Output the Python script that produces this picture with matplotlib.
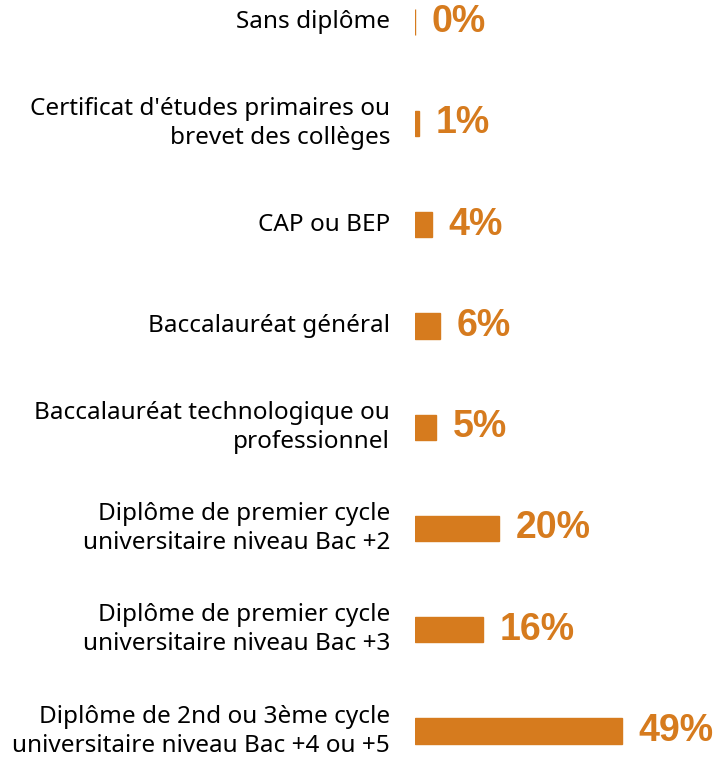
import matplotlib.pyplot as plt

categories = [
    "Sans diplôme",
    "Certificat d'études primaires ou\nbrevet des collèges",
    "CAP ou BEP",
    "Baccalauréat général",
    "Baccalauréat technologique ou\nprofessionnel",
    "Diplôme de premier cycle\nuniversitaire niveau Bac +2",
    "Diplôme de premier cycle\nuniversitaire niveau Bac +3",
    "Diplôme de 2nd ou 3ème cycle\nuniversitaire niveau Bac +4 ou +5",
]
values = [0, 1, 4, 6, 5, 20, 16, 49]

orange = "#D67B1E"

fig = plt.figure(figsize=(7.15, 7.57), dpi=100)
ax = fig.add_axes([415 / 715, 0, 300 / 715, 1])

pos = list(range(len(categories)))
bars = ax.barh(pos, values, height=0.25, color=orange,
               edgecolor=orange, linewidth=1.0)

for p, v in zip(pos, values):
    ax.annotate(f"{v}%", xy=(v, p), xytext=(12, 0), textcoords="offset points",
                ha="left", va="center", fontsize=27, fontweight="bold",
                color=orange, family="Liberation Sans")

ax.set_yticks(pos)
ax.set_yticklabels(categories, fontsize=17.5, family="Noto Sans",
                   linespacing=1.28)
for lbl in ax.get_yticklabels():
    lbl.set_verticalalignment("center")
ax.tick_params(axis="y", length=0, pad=18)
ax.set_xticks([])
ax.set_xlim(0, 71.1)
ax.set_ylim((757 - 22) / 101.3, -22 / 101.3)
for s in ax.spines.values():
    s.set_visible(False)

fig.savefig("out.png", dpi=100)
